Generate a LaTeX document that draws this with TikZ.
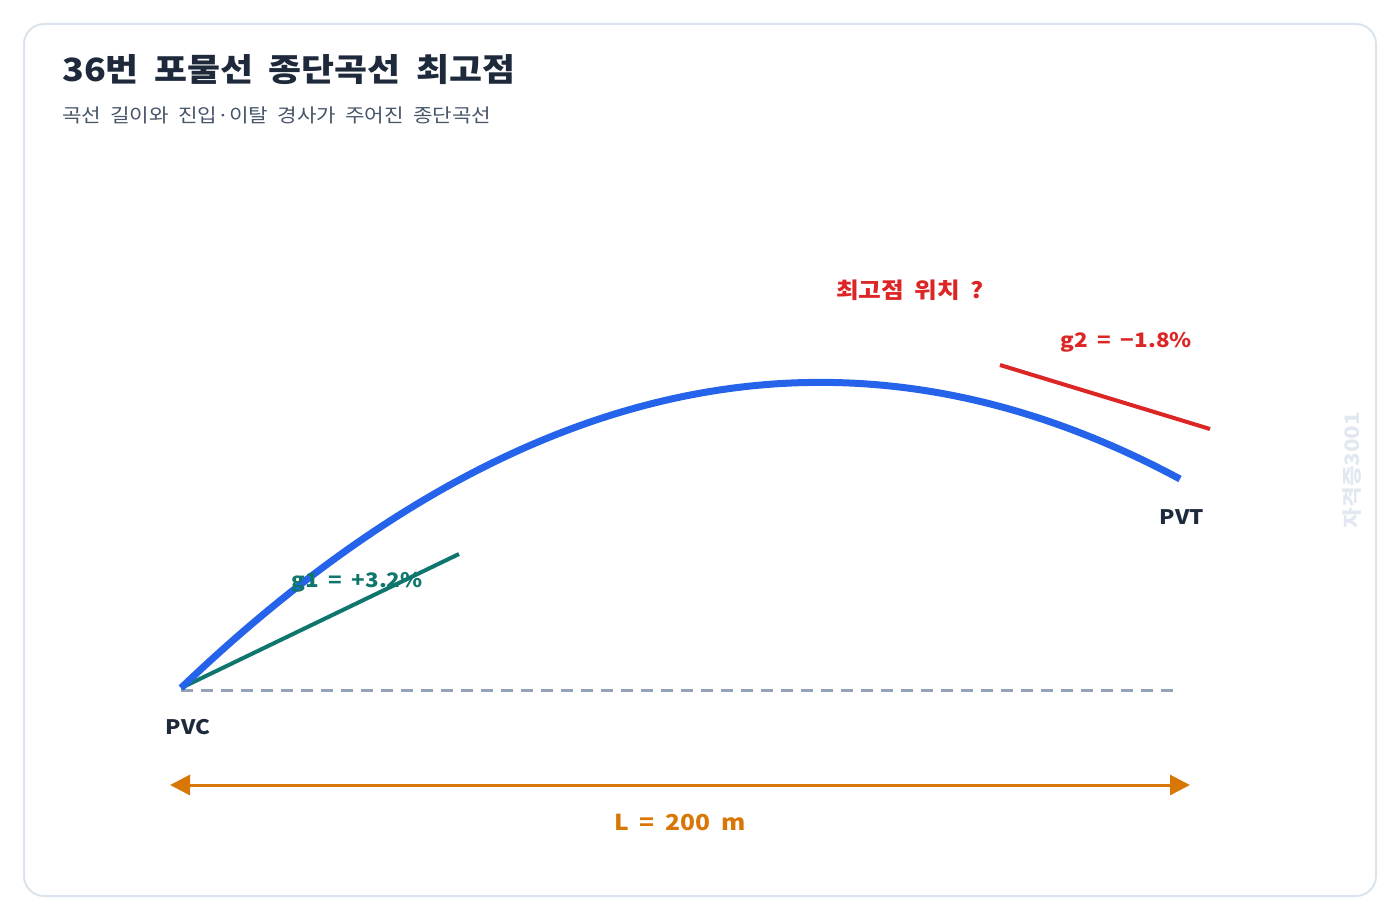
\documentclass[tikz,border=0pt]{standalone}
\usepackage{fontspec}
\setmainfont{Noto Sans CJK KR}[FakeStretch=1.12, WordSpace=1.9]
\usepackage{tikz}
\usetikzlibrary{arrows.meta}
\definecolor{framecolor}{RGB}{219,227,236}
\definecolor{titlecolor}{RGB}{30,41,59}
\definecolor{subcolor}{RGB}{71,85,105}
\definecolor{curvecolor}{RGB}{37,99,235}
\definecolor{gonecolor}{RGB}{15,118,110}
\definecolor{gtwocolor}{RGB}{220,38,38}
\definecolor{basecolor}{RGB}{148,163,184}
\definecolor{lencolor}{RGB}{217,119,6}
\definecolor{markcolor}{RGB}{226,232,240}

\tikzset{
  lbl/.style={inner sep=0pt, font=\fontsize{20}{24}\selectfont\bfseries},
  curveline/.style={draw=curvecolor, line width=7pt},
  gradeline/.style={line width=4pt},
}

\begin{document}
\begin{tikzpicture}[x=1pt, y=-1pt]
        \useasboundingbox (0,0) rectangle (1400,920);
        \draw[framecolor, line width=2pt, rounded corners=20pt] (24,24) rectangle (1376,896);

        \node[anchor=base west, inner sep=0pt, text=titlecolor, font=\fontsize{32}{36}\selectfont\bfseries] (title) at (62,82) {36번 포물선 종단곡선 최고점};
        \node[anchor=base west, inner sep=0pt, text=subcolor, font=\fontsize{19}{23}\selectfont] (subtitle) at (62,123) {곡선 길이와 진입·이탈 경사가 주어진 종단곡선};

        \coordinate (pvcpt) at (181,688);
        \coordinate (pvtpt) at (1180,479);
        \coordinate (baseend) at (1175,690);
        \coordinate (gone) at (459,554);
        \coordinate (gtwoa) at (1000,365);
        \coordinate (gtwob) at (1210,429);

        \draw[basecolor, line width=3pt, dash pattern=on 12pt off 8pt] (pvcpt |- baseend) -- (baseend);
        \draw[gonecolor, gradeline] (pvcpt) -- (gone);
        \draw[gtwocolor, gradeline] (gtwoa) -- (gtwob);
        \draw[curveline] (pvcpt) .. controls (514,369.7) and (847,300) .. (pvtpt);

        \node[lbl, text=titlecolor] (pvc) at (188,727) {PVC};
        \node[lbl, text=titlecolor] (pvt) at (1182,517) {PVT};
        \node[lbl, text=gonecolor] (gonelbl) at (357,582) {g1 = +3.2\%};
        \node[lbl, text=gtwocolor] (gtwolbl) at (1126,342) {g2 = −1.8\%};
        \node[lbl, text=gtwocolor, font=\fontsize{22}{26}\selectfont\bfseries] (peak) at (910,290) {최고점 위치 ?};

        \coordinate (lstart) at (170,785);
        \coordinate (lend) at (1190,785);
        \draw[lencolor, line width=3pt, {Triangle[length=20pt,width=20pt]}-{Triangle[length=20pt,width=20pt]}] (lstart) -- (lend);
        \node[lbl, text=lencolor, font=\fontsize{22}{26}\selectfont\bfseries] (lenlbl) at (680,822) {L = 200 m};

        \node[inner sep=0pt, rotate=90, text=markcolor, font=\fontsize{20}{24}\selectfont\bfseries] (mark) at (1352,470) {자격증3001};
    \end{tikzpicture}
\end{document}
